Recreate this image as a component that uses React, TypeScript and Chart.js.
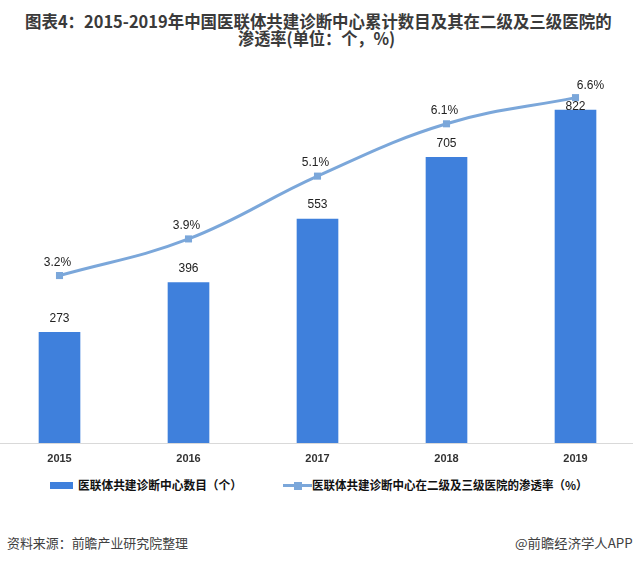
import React, { useEffect, useLayoutEffect, useRef, useState } from "react";
import { Chart, registerables } from "chart.js";

Chart.register(...registerables);

const years = ["2015", "2016", "2017", "2018", "2019"];
const centerCounts = [273, 396, 553, 705, 822];
const penetrationRates = [3.2, 3.9, 5.1, 6.1, 6.6];
const rateLabels = ["3.2%", "3.9%", "5.1%", "6.1%", "6.6%"];

const titleLine1 = "图表4：2015-2019年中国医联体共建诊断中心累计数目及其在二级及三级医院的";
const titleLine2 = "渗透率(单位：个，%)";
const legendBar = "医联体共建诊断中心数目（个）";
const legendLine = "医联体共建诊断中心在二级及三级医院的渗透率（%）";
const sourceLeft = "资料来源：前瞻产业研究院整理";
const sourceRight = "@前瞻经济学人APP";

const BAR_COLOR = "#3F80DC";
const LINE_COLOR = "#7BA7DA";
const CJK = '"Noto Sans CJK SC", "Noto Sans", sans-serif';
const NUM = '"Liberation Sans", Arial, sans-serif';

function Fit(props: {
  text: string;
  left: number;
  cy: number;
  w: number;
  size: number;
  weight?: string;
  color?: string;
}) {
  const ref = useRef<HTMLSpanElement>(null);
  const [scale, setScale] = useState(1);
  useLayoutEffect(() => {
    if (ref.current) {
      const nat = ref.current.offsetWidth;
      if (nat > 0) setScale(props.w / nat);
    }
  }, [props.text, props.w]);
  return (
    <span
      ref={ref}
      style={{
        position: "absolute",
        left: props.left,
        top: props.cy - props.size / 2,
        fontFamily: CJK,
        fontSize: props.size,
        fontWeight: (props.weight || "normal") as any,
        lineHeight: `${props.size}px`,
        color: props.color || "#333",
        whiteSpace: "nowrap",
        transform: `scaleX(${scale})`,
        transformOrigin: "left center",
      }}
    >
      {props.text}
    </span>
  );
}

const labelPlugin = {
  id: "valueLabels",
  afterDatasetsDraw(chart: any) {
    const ctx = chart.ctx;
    ctx.save();
    ctx.font = `12px ${NUM}`;
    ctx.fillStyle = "#222";
    ctx.textAlign = "center";
    ctx.textBaseline = "middle";
    const barMeta = chart.getDatasetMeta(0);
    barMeta.data.forEach((el: any, i: number) => {
      const last = i === barMeta.data.length - 1;
      ctx.fillText(String(centerCounts[i]), el.x, el.y - (last ? 3 : 14));
    });
    const lineMeta = chart.getDatasetMeta(1);
    lineMeta.data.forEach((el: any, i: number) => {
      const last = i === lineMeta.data.length - 1;
      ctx.fillText(rateLabels[i], el.x + (last ? 15 : -2), el.y - (last ? 11.5 : 13));
    });
    ctx.restore();
  },
};

export default function App() {
  const canvasRef = useRef<HTMLCanvasElement>(null);

  useEffect(() => {
    document.body.style.margin = "0";
    document.body.style.overflow = "hidden";
    if (!canvasRef.current) return;
    const chart = new Chart(canvasRef.current, {
      type: "bar",
      data: {
        labels: years,
        datasets: [
          {
            type: "bar",
            label: legendBar,
            data: centerCounts,
            backgroundColor: BAR_COLOR,
            barThickness: 41,
            yAxisID: "y",
            order: 1,
          } as any,
          {
            type: "line",
            label: legendLine,
            data: penetrationRates,
            borderColor: LINE_COLOR,
            borderWidth: 3,
            tension: 0.4,
            pointStyle: "rect",
            pointRadius: 5,
            pointBackgroundColor: LINE_COLOR,
            pointBorderColor: LINE_COLOR,
            pointBorderWidth: 0,
            clip: false,
            yAxisID: "y2",
            order: 0,
          } as any,
        ],
      },
      options: {
        animation: false,
        responsive: false,
        devicePixelRatio: 1,
        layout: { padding: 0, autoPadding: false },
        plugins: {
          legend: { display: false },
          tooltip: { enabled: false },
          title: { display: false },
        },
        scales: {
          x: {
            offset: true,
            grid: { display: false, drawTicks: false },
            border: { display: true, color: "#D9D9D9", width: 1 },
            ticks: {
              color: "#333",
              font: { family: NUM, size: 11, weight: "bold" },
              padding: 9,
            },
            afterFit: (s: any) => {
              s.height = 28;
              s.paddingLeft = 0;
              s.paddingRight = 0;
            },
          },
          y: { display: false, min: 0, max: 943 },
          y2: { display: false, min: 0, max: 7.3, position: "right" },
        },
      } as any,
      plugins: [labelPlugin],
    });
    return () => chart.destroy();
  }, []);

  return (
    <div
      style={{
        position: "fixed",
        left: 0,
        top: 0,
        width: 633,
        height: 563,
        background: "#fff",
        overflow: "hidden",
      }}
    >
      <Fit text={titleLine1} left={25} cy={20.5} w={587} size={17} weight="bold" color="#3a3a3a" />
      <Fit text={titleLine2} left={238} cy={37.5} w={157} size={17} weight="bold" color="#3a3a3a" />
      <div style={{ position: "absolute", left: -5, top: 61, width: 645, height: 410 }}>
        <canvas ref={canvasRef} width={645} height={410} style={{ width: 645, height: 410 }} />
      </div>
      <div
        style={{ position: "absolute", left: 50, top: 482, width: 23, height: 7, background: BAR_COLOR }}
      />
      <Fit text={legendBar} left={78} cy={485} w={164} size={12} weight="bold" color="#111" />
      <div
        style={{ position: "absolute", left: 283, top: 484, width: 29, height: 3, background: LINE_COLOR }}
      />
      <div
        style={{ position: "absolute", left: 294, top: 481.5, width: 8, height: 8, background: LINE_COLOR }}
      />
      <Fit text={legendLine} left={312} cy={485} w={276} size={12} weight="bold" color="#111" />
      <Fit text={sourceLeft} left={7} cy={542.5} w={181} size={13} color="#404040" />
      <Fit text={sourceRight} left={515} cy={542.5} w={118} size={13} color="#404040" />
    </div>
  );
}
